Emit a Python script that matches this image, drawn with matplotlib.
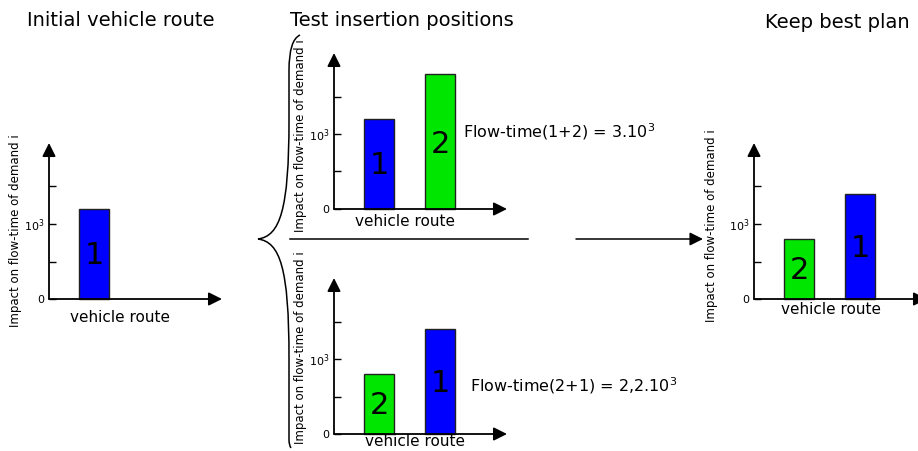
import matplotlib
matplotlib.use('Agg')
import matplotlib.pyplot as plt
from matplotlib.path import Path
from matplotlib.patches import PathPatch

# data
titles = ['Initial vehicle route', 'Test insertion positions', 'Keep best plan']
ylabel = 'Impact on flow-time of demand i'
xlabel = 'vehicle route'
ytick_vals = [0, 0.5, 1, 1.5]
ytick_labels = ['0', '', '$10^3$', '']

initial_ids = ['1']
initial_vals = [1.2]

test12_ids = ['1', '2']
test12_vals = [1.2, 1.8]
test12_text = 'Flow-time(1+2) = 3.10$^3$'

test21_ids = ['2', '1']
test21_vals = [0.8, 1.4]
test21_text = 'Flow-time(2+1) = 2,2.10$^3$'

best_ids = ['2', '1']
best_vals = [0.8, 1.4]

colors = {'1': '#0000ff', '2': '#00e600'}

W, H = 918, 451
fig = plt.figure(figsize=(W / 100, H / 100), dpi=100)

# overlay in pixel coords for free drawing
over = fig.add_axes([0, 0, 1, 1])
over.set_xlim(0, W)
over.set_ylim(H, 0)
over.axis('off')

PX_PER_UNIT = 75.0
AW, AH = 180, 160


def panel(ox, oy, ids, vals, lab_dx, lab_y, xl_dx, xl_dy):
    ax = fig.add_axes([ox / W, (H - oy) / H, AW / W, AH / H])
    ax.set_xlim(0, AW)
    ax.set_ylim(0, AH / PX_PER_UNIT)
    ax.patch.set_visible(False)
    for s in ax.spines.values():
        s.set_visible(False)
    ax.set_xticks([])
    ax.set_yticks(ytick_vals)
    ax.set_yticklabels(ytick_labels)
    ax.tick_params(axis='y', direction='in', length=5, width=1, labelsize=8, pad=3.5)
    arrow = dict(arrowstyle='-|>,head_length=0.8,head_width=0.4', mutation_scale=10,
                 lw=1.3, color='black', shrinkA=0, shrinkB=0)
    ax.annotate('', xy=(173, 0), xytext=(0, 0), arrowprops=arrow, annotation_clip=False)
    ax.annotate('', xy=(0, 156 / PX_PER_UNIT), xytext=(0, 0), arrowprops=arrow,
                annotation_clip=False)
    xs = [45 + 61 * i for i in range(len(vals))]
    ax.bar(xs, vals, width=30, color=[colors[k] for k in ids], edgecolor='#222222',
           linewidth=1, clip_on=False)
    for x, v, k in zip(xs, vals, ids):
        ax.text(x, v * 0.48, k, ha='center', va='center', fontsize=22)
    ax.set_ylabel(ylabel, fontsize=8.5)
    ax.yaxis.set_label_coords(lab_dx / AW, lab_y)
    ax.text(xl_dx, -xl_dy / PX_PER_UNIT, xlabel, ha='center', va='center', fontsize=11)
    return ax


panel(49, 299, initial_ids, initial_vals, -27, 0.43, 71, 18)
panel(334, 209, test12_ids, test12_vals, -27, 0.46, 71, 13)
panel(334, 434, test21_ids, test21_vals, -27, 0.54, 81, 8)
panel(754, 299, best_ids, best_vals, -36, 0.46, 77, 11)

over.text(27, 26, titles[0], fontsize=14, ha='left', va='baseline')
over.text(290, 26, titles[1], fontsize=14, ha='left', va='baseline')
over.text(765, 28, titles[2], fontsize=14, ha='left', va='baseline')

over.text(463, 132, test12_text, fontsize=11.5, ha='left', va='center')
over.text(470, 386, test21_text, fontsize=11.5, ha='left', va='center')

# curly brace
verts = [(300, 35), (289, 40), (289, 70),
         (289, 120), (289, 120),
         (289, 210), (280, 236), (258, 239),
         (280, 242), (289, 268), (289, 358),
         (289, 440), (289, 440),
         (289, 445), (291, 448)]
codes = [Path.MOVETO, Path.CURVE3, Path.CURVE3,
         Path.LINETO, Path.LINETO,
         Path.CURVE4, Path.CURVE4, Path.CURVE4,
         Path.CURVE4, Path.CURVE4, Path.CURVE4,
         Path.LINETO, Path.LINETO,
         Path.CURVE3, Path.CURVE3]
over.add_patch(PathPatch(Path(verts, codes), fill=False, lw=1.1, color='black'))

over.plot([290, 528], [239, 239], color='black', lw=1.1)
over.annotate('', xy=(703, 239), xytext=(576, 239),
              arrowprops=dict(arrowstyle='-|>,head_length=0.8,head_width=0.4',
                              mutation_scale=10, lw=1.1, color='black',
                              shrinkA=0, shrinkB=0))

fig.savefig('out.png', dpi=100)
